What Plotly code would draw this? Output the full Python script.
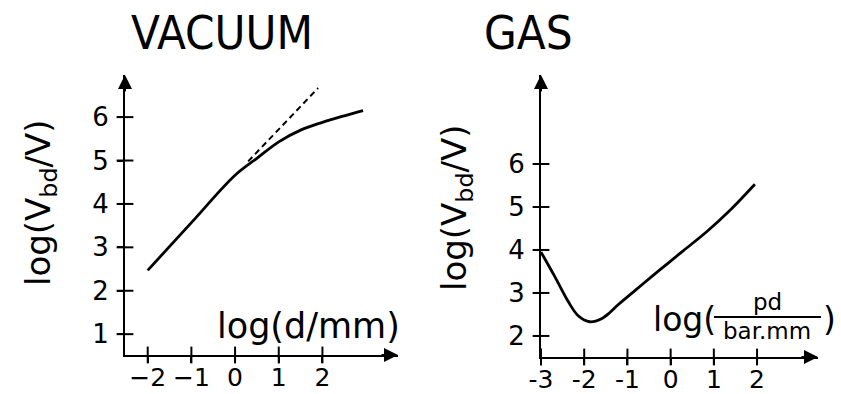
import plotly.graph_objects as go

# Breakdown voltage curves: vacuum gap vs. gas (Paschen) behaviour
vac_x = [-2.0, -1.0, 0.0, 0.5, 1.0, 1.5, 2.0, 2.5, 2.93]
vac_y = [2.47, 3.57, 4.66, 5.05, 5.43, 5.70, 5.88, 6.03, 6.15]

# linear extrapolation of the low-gap slope
vac_lin_x = [0.3, 1.9]
vac_lin_y = [4.98, 6.67]

gas_x = [-3.0, -2.68, -2.37, -2.14, -1.87, -1.6, -1.4, -1.21, -0.82, -0.44, -0.05, 0.29, 0.84, 1.38, 1.95]
gas_y = [3.95, 3.38, 2.80, 2.47, 2.33, 2.40, 2.55, 2.73, 3.06, 3.38, 3.70, 3.98, 4.43, 4.93, 5.53]

vac_xticks = [-2, -1, 0, 1, 2]
vac_xticklabels = ["\u22122", "\u22121", "0", "1", "2"]
vac_yticks = [1, 2, 3, 4, 5, 6]
gas_xticks = [-3, -2, -1, 0, 1, 2]
gas_xticklabels = ["-3", "-2", "-1", "0", "1", "2"]
gas_yticks = [2, 3, 4, 5, 6]

vac_xrange = [-2.52, 3.73]
vac_yrange = [0.52, 6.97]
gas_xrange = [-3.0, 3.41]
gas_yrange = [1.51, 8.07]

W, H = 841, 394
FONT = "DejaVu Sans, Verdana, sans-serif"
TITLE_FONT = "Liberation Sans Narrow, DejaVu Sans Condensed, Arial Narrow, sans-serif"


def px(x):
    return x / W


def py(y):
    return 1 - y / H


fig = go.Figure()

line = dict(color="black", width=2.8)
fig.add_trace(go.Scatter(x=vac_x, y=vac_y, mode="lines", line=dict(line, shape="spline"),
                         xaxis="x", yaxis="y", hoverinfo="skip"))
fig.add_trace(go.Scatter(x=vac_lin_x, y=vac_lin_y, mode="lines",
                         line=dict(color="black", width=2, dash="6px,4px"),
                         xaxis="x", yaxis="y", hoverinfo="skip"))
fig.add_trace(go.Scatter(x=gas_x, y=gas_y, mode="lines",
                         line=dict(line, shape="spline", smoothing=0.9),
                         xaxis="x2", yaxis="y2", hoverinfo="skip"))

# cross-shaped tick marks straddling each axis line
for xa, ya, xt, yt, xr, yr in [("x", "y", vac_xticks, vac_yticks, vac_xrange, vac_yrange),
                               ("x2", "y2", gas_xticks, gas_yticks, gas_xrange, gas_yrange)]:
    fig.add_trace(go.Scatter(x=xt, y=[yr[0]] * len(xt), mode="markers", xaxis=xa, yaxis=ya,
                             marker=dict(symbol="line-ns", size=12,
                                         line=dict(color="black", width=2)),
                             cliponaxis=False, hoverinfo="skip"))
    fig.add_trace(go.Scatter(x=[xr[0]] * len(yt), y=yt, mode="markers", xaxis=xa, yaxis=ya,
                             marker=dict(symbol="line-ew", size=12,
                                         line=dict(color="black", width=2)),
                             cliponaxis=False, hoverinfo="skip"))

left_dom_x = [px(125), px(398)]
left_dom_y = [py(355), py(75)]
right_dom_x = [px(541), px(818)]
right_dom_y = [py(357), py(75)]

common = dict(showgrid=False, zeroline=False, showline=True, linecolor="black",
              linewidth=2, tickcolor="black", tickwidth=2, ticklen=6, fixedrange=True,
              automargin=False)


def xaxis(rng, ticks, labels, dom, anchor):
    return dict(common, range=rng, domain=dom, anchor=anchor, tickvals=ticks,
                ticktext=labels, ticks="outside",
                tickfont=dict(family=FONT, size=25, color="black"),
                ticklabelstandoff=-7)


def yaxis(rng, ticks, dom, anchor):
    return dict(common, range=rng, domain=dom, anchor=anchor, tickvals=ticks,
                ticks="outside", tickfont=dict(family=FONT, size=26, color="black"),
                ticklabelstandoff=3)


fig.update_layout(
    width=W, height=H,
    margin=dict(l=0, r=0, t=0, b=0, autoexpand=False),
    paper_bgcolor="white", plot_bgcolor="white",
    showlegend=False,
    xaxis=xaxis(vac_xrange, vac_xticks, vac_xticklabels, left_dom_x, "y"),
    yaxis=yaxis(vac_yrange, vac_yticks, left_dom_y, "x"),
    xaxis2=xaxis(gas_xrange, gas_xticks, gas_xticklabels, right_dom_x, "y2"),
    yaxis2=yaxis(gas_yrange, gas_yticks, right_dom_y, "x2"),
)


def label(text, x, y, size, family=FONT, xanchor="center", angle=0):
    return dict(text=text, x=px(x), y=py(y), xref="paper", yref="paper",
                xanchor=xanchor, yanchor="middle", showarrow=False, textangle=angle,
                font=dict(family=family, size=size, color="black"))


ann = [
    # panel titles
    label("VACUUM", 222, 32, 47, TITLE_FONT),
    label("GAS", 528, 32, 47, TITLE_FONT),
    # rotated y titles
    label("log(V<sub>bd</sub>/V)", 40, 203, 34, angle=-90),
    label("log(V<sub>bd</sub>/V)", 456, 208, 34, angle=-90),
    # x titles
    label("log(d/mm)", 308, 326, 35),
    label("log(", 651, 319, 33, xanchor="left"),
    label("pd", 767, 302, 23),
    label("bar.mm", 767, 331, 23),
    label(")", 838, 319, 33, xanchor="right"),
]

# arrowheads at the ends of each axis
for xr, yr, xa, ya in [(vac_xrange, vac_yrange, "x", "y"), (gas_xrange, gas_yrange, "x2", "y2")]:
    ann.append(dict(x=xr[1], y=yr[0], xref=xa, yref=ya, ax=-18, ay=0, text="",
                    showarrow=True, arrowhead=2, arrowsize=1.4, arrowwidth=2,
                    arrowcolor="black", standoff=0))
    ann.append(dict(x=xr[0], y=yr[1], xref=xa, yref=ya, ax=0, ay=18, text="",
                    showarrow=True, arrowhead=2, arrowsize=1.4, arrowwidth=2,
                    arrowcolor="black", standoff=0))

fig.update_layout(annotations=ann)

# fraction bar for pd / bar.mm
fig.add_shape(type="line", xref="paper", yref="paper", x0=px(714), x1=px(821),
              y0=py(317), y1=py(317), line=dict(color="black", width=2))

fig.write_html("out.html")
